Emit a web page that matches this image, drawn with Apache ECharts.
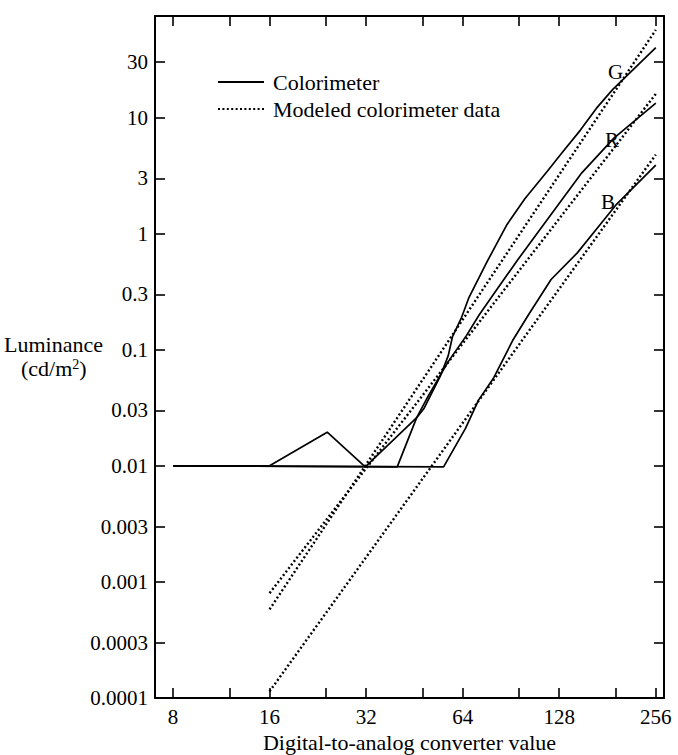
<!DOCTYPE html>
<html>
<head>
<meta charset="utf-8">
<script src="https://cdn.jsdelivr.net/npm/echarts@6/dist/echarts.min.js"></script>
<style>
  html, body { margin: 0; padding: 0; background: #fff; }
  #chart { width: 678px; height: 755px; }
</style>
</head>
<body>
<div id="chart"></div>
<script>
// ---- data ----
const xTickValues = [8, 12, 16, 24, 32, 48, 64, 96, 128, 192, 256];
const xLabelValues = [8, 16, 32, 64, 128, 256];
const yTickValues = [0.0001, 0.0003, 0.001, 0.003, 0.01, 0.03, 0.1, 0.3, 1, 3, 10, 30];
const yTickLabels = ['0.0001', '0.0003', '0.001', '0.003', '0.01', '0.03', '0.1', '0.3', '1', '3', '10', '30'];

// Colorimeter (measured)
const gMeasX = [8, 40, 46, 48.4, 54.6, 57.7, 59.5, 63.3, 66.8, 76.4, 88, 100, 118, 130, 149, 167, 188, 256];
const gMeasY = [0.01, 0.0098, 0.026, 0.031, 0.06, 0.089, 0.13, 0.186, 0.278, 0.58, 1.2, 2.0, 3.5, 4.9, 7.8, 12, 17.5, 40];
const rMeasX = [8, 16, 24.2, 31.8, 46, 50, 57.7, 65.8, 72, 82.6, 94.8, 109, 150.5, 189.5, 256];
const rMeasY = [0.01, 0.01, 0.0195, 0.0098, 0.026, 0.04, 0.079, 0.133, 0.199, 0.343, 0.59, 1.0, 3.34, 6.65, 13.3];
const bMeasX = [8, 55.8, 65.3, 71.7, 80, 91.6, 103, 120.7, 145.7, 171, 192, 256];
const bMeasY = [0.01, 0.0098, 0.021, 0.0368, 0.0574, 0.12, 0.203, 0.403, 0.683, 1.18, 1.76, 3.9];

// Modeled colorimeter data
const gModelX = [16, 256];
const gModelY = [0.00058, 57];
const rModelX = [16, 256];
const rModelY = [0.0008, 16];
const bModelX = [16, 256];
const bModelY = [0.000114, 4.8];

const seriesNames = ['Colorimeter', 'Modeled colorimeter data'];
const curveLabels = ['G', 'R', 'B'];

// ---- build chart ----
const pairs = (xs, ys) => xs.map((x, i) => [x, ys[i]]);
const FONT = 'Liberation Serif';
const xMin = 7.03, xMax = 271.5, yMin = 0.0001, yMax = 75;

function solid(xs, ys) {
  return {
    name: seriesNames[0], type: 'line', data: pairs(xs, ys),
    symbol: 'none', showSymbol: false, smooth: false, animation: false,
    lineStyle: { color: '#000', width: 1.7, type: 'solid' }, itemStyle: { color: '#000' }
  };
}
function dotted(xs, ys) {
  return {
    name: seriesNames[1], type: 'line', data: pairs(xs, ys),
    symbol: 'none', showSymbol: false, animation: false,
    lineStyle: { color: '#000', width: 2.4, type: [2, 2.4], cap: 'butt' }, itemStyle: { color: '#000' }
  };
}

const labelMap = {};
yTickValues.forEach((v, i) => { labelMap[v] = yTickLabels[i]; });

const axisLineStyle = { show: true, onZero: false, lineStyle: { color: '#000', width: 2 } };
const tickStyle = { show: true, inside: true, length: 10, lineStyle: { color: '#000', width: 1.6 } };

const chart = echarts.init(document.getElementById('chart'), null, { renderer: 'svg' });
chart.setOption({
  animation: false,
  backgroundColor: '#fff',
  grid: { left: 155, right: 14, top: 16, bottom: 57, containLabel: false, outerBoundsMode: 'none' },
  legend: {
    data: seriesNames, orient: 'vertical', left: 212, top: 66,
    itemWidth: 46, itemHeight: 14, itemGap: 5,
    itemStyle: { opacity: 0, color: 'transparent', borderWidth: 0 },
    textStyle: { fontFamily: FONT, fontSize: 22, color: '#000', padding: [0, 0, 0, 4] },
    selectedMode: false
  },
  xAxis: [
    {
      type: 'log', logBase: 2, min: xMin, max: xMax, position: 'bottom',
      axisLine: axisLineStyle,
      axisTick: Object.assign({ customValues: xTickValues }, tickStyle),
      axisLabel: { customValues: xLabelValues, margin: 8, fontFamily: FONT, fontSize: 21, color: '#000',
                   formatter: v => String(Math.round(v)) },
      splitLine: { show: false },
      name: 'Digital-to-analog converter value', nameLocation: 'middle', nameGap: 33,
      nameTextStyle: { fontFamily: FONT, fontSize: 22, color: '#000' }
    },
    {
      type: 'log', logBase: 2, min: xMin, max: xMax, position: 'top',
      axisLine: axisLineStyle,
      axisTick: Object.assign({ customValues: xTickValues }, tickStyle),
      axisLabel: { show: false }, splitLine: { show: false }
    }
  ],
  yAxis: [
    {
      type: 'log', logBase: 10, min: yMin, max: yMax, position: 'left',
      axisLine: axisLineStyle,
      axisTick: Object.assign({ customValues: yTickValues }, tickStyle),
      axisLabel: { customValues: yTickValues, margin: 7, fontFamily: FONT, fontSize: 21, color: '#000',
                   formatter: v => { for (const k of yTickValues) { if (Math.abs(Math.log10(k) - Math.log10(v)) < 1e-6) return labelMap[k]; } return ''; } },
      splitLine: { show: false }
    },
    {
      type: 'log', logBase: 10, min: yMin, max: yMax, position: 'right',
      axisLine: axisLineStyle,
      axisTick: Object.assign({ customValues: yTickValues }, tickStyle),
      axisLabel: { show: false }, splitLine: { show: false }
    }
  ],
  graphic: [
    { type: 'text', left: 4, top: 333, style: { text: 'Luminance', fontFamily: FONT, fontSize: 22, fill: '#000' } },
    { type: 'text', left: 21, top: 357, style: { text: '(cd/m{sup|2})', fontFamily: FONT, fontSize: 22, fill: '#000',
        rich: { sup: { fontFamily: FONT, fontSize: 14, verticalAlign: 'top', padding: [0, 0, 9, 0] } } } },
    { type: 'text', left: 608, top: 61, style: { text: curveLabels[0], fontFamily: FONT, fontSize: 21, fill: '#000' } },
    { type: 'text', left: 605, top: 129, style: { text: curveLabels[1], fontFamily: FONT, fontSize: 21, fill: '#000' } },
    { type: 'text', left: 601, top: 191, style: { text: curveLabels[2], fontFamily: FONT, fontSize: 21, fill: '#000' } }
  ],
  series: [
    solid(gMeasX, gMeasY),
    solid(rMeasX, rMeasY),
    solid(bMeasX, bMeasY),
    dotted(gModelX, gModelY),
    dotted(rModelX, rModelY),
    dotted(bModelX, bModelY)
  ]
});
</script>
</body>
</html>
